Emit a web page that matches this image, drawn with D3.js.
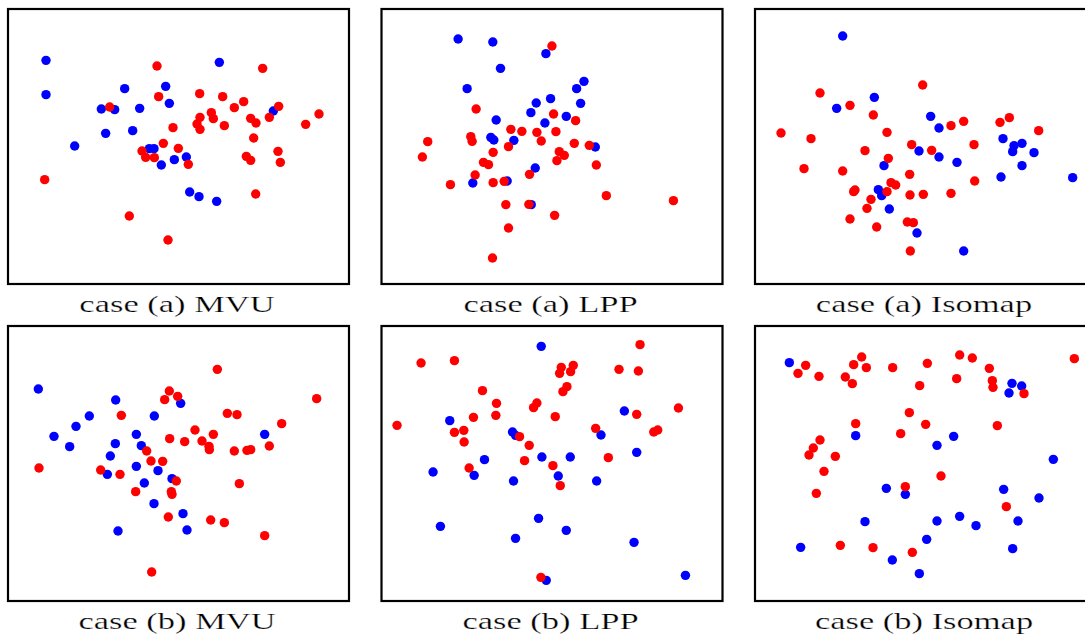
<!DOCTYPE html>
<html>
<head>
<meta charset="utf-8">
<script src="https://cdn.jsdelivr.net/npm/d3@7"></script>
<style>
  body { margin: 0; background: #fff; }
  svg { display: block; }
</style>
</head>
<body>
<div id="chart"></div>
<script>
/* embedding coordinates, [x, y] with y growing downward */
const titles = ["case (a) MVU", "case (a) LPP", "case (a) Isomap",
                "case (b) MVU", "case (b) LPP", "case (b) Isomap"];

const mvuA_blue = [[138,181],[138,284],[658,187],[374,266],[497,259],[508,310],[304,327],[344,329],[419,325],[317,400],[398,392],[224,438],[448,446],[462,446],[484,495],[523,479],[559,471],[569,576],[597,590],[650,604],[820,333]];
const mvuA_red = [[471,198],[788,205],[329,321],[476,290],[599,281],[668,290],[703,323],[731,305],[836,319],[808,352],[957,342],[917,373],[634,338],[640,356],[600,352],[591,372],[600,388],[673,377],[752,355],[768,369],[519,383],[761,414],[490,430],[535,445],[426,453],[437,472],[463,473],[565,493],[739,469],[752,481],[834,454],[841,487],[767,582],[134,539],[388,648],[504,720]];

const lppA_blue = [[264,117],[368,126],[391,205],[527,161],[291,266],[619,266],[641,244],[498,309],[541,296],[631,310],[482,338],[588,349],[378,360],[524,369],[362,412],[371,420],[431,421],[675,441],[495,504],[308,549],[411,543],[483,614]];
const lppA_red = [[545,138],[318,327],[550,342],[616,362],[422,388],[455,394],[500,397],[557,395],[173,425],[302,410],[306,424],[513,423],[612,430],[657,436],[415,440],[157,471],[369,457],[567,455],[582,466],[560,482],[340,487],[355,494],[678,495],[315,525],[478,523],[241,554],[369,548],[402,544],[708,587],[909,602],[407,614],[476,613],[553,646],[415,684],[367,774]];

const isoA_blue = [[308,108],[403,292],[290,325],[572,349],[597,384],[537,453],[597,471],[651,487],[432,497],[789,416],[822,437],[846,430],[818,455],[882,458],[846,497],[783,531],[998,533],[415,569],[425,587],[448,627],[531,699],[671,753]];
const isoA_red = [[240,279],[330,316],[548,255],[400,345],[123,399],[213,416],[441,397],[633,377],[671,364],[780,367],[808,353],[896,392],[515,434],[575,451],[702,434],[375,452],[445,475],[192,506],[308,513],[509,523],[704,543],[453,548],[467,555],[345,570],[341,575],[441,575],[510,585],[550,583],[633,580],[393,598],[381,625],[330,657],[410,681],[502,666],[520,668],[511,753]];

const mvuB_blue = [[115,214],[347,247],[542,257],[268,295],[228,326],[162,356],[209,387],[463,295],[409,350],[346,378],[424,384],[331,415],[409,446],[474,459],[322,470],[516,483],[433,496],[462,558],[549,588],[561,637],[354,640],[794,350]];
const mvuB_red = [[652,155],[508,220],[533,236],[494,246],[950,243],[364,293],[682,287],[711,291],[845,318],[585,337],[640,350],[509,363],[554,372],[606,370],[627,386],[628,396],[703,400],[741,398],[752,396],[808,385],[440,400],[453,430],[488,431],[117,451],[302,457],[360,470],[529,490],[514,522],[516,530],[407,522],[718,498],[505,598],[632,607],[673,615],[794,654],[455,763]];

const lppB_blue = [[513,86],[239,309],[762,280],[427,343],[436,353],[692,352],[343,426],[515,418],[600,418],[799,404],[189,463],[312,473],[564,475],[430,490],[679,490],[505,602],[588,638],[211,626],[436,662],[791,674],[528,788],[945,773]];
const lppB_red = [[809,81],[153,136],[253,129],[573,149],[609,143],[568,167],[601,162],[746,155],[804,160],[337,219],[590,207],[578,222],[379,257],[500,256],[490,270],[924,271],[310,299],[377,293],[555,297],[799,290],[81,323],[253,344],[281,338],[282,373],[448,357],[477,383],[676,332],[850,343],[862,337],[463,429],[548,444],[714,420],[297,451],[570,504],[512,779]];

const isoB_blue = [[148,135],[816,197],[845,205],[807,226],[347,354],[591,383],[641,356],[940,425],[439,512],[496,530],[791,515],[897,541],[375,612],[591,610],[659,596],[708,624],[834,610],[560,665],[182,689],[818,693],[457,727],[538,768]];
const isoB_red = [[197,143],[174,167],[237,176],[365,118],[341,141],[379,150],[316,178],[337,198],[458,150],[562,137],[539,204],[659,112],[697,121],[748,152],[650,183],[757,189],[759,209],[852,228],[1003,123],[508,285],[557,320],[482,348],[347,318],[772,324],[240,367],[220,391],[207,412],[286,416],[252,461],[603,475],[229,527],[496,507],[799,567],[301,683],[399,690],[517,704]];

const blueSets = [mvuA_blue, lppA_blue, isoA_blue, mvuB_blue, lppB_blue, isoB_blue];
const redSets = [mvuA_red, lppA_red, isoA_red, mvuB_red, lppB_red, isoB_red];

/* layout */
const W = 1085, H = 639;
const colLeft = [8, 381.5, 755];
const rowTop = [9, 326];
const panelW = 341, panelH = 275;
const colXDomain = [[24, 1047], [34.5, 1056], [45, 1068]];
const rowYDomain = [[27, 852], [25, 850]];
const R = 4.7;

const svg = d3.select("#chart").append("svg")
  .attr("width", W)
  .attr("height", H);

svg.append("rect").attr("width", W).attr("height", H).attr("fill", "#fff");

titles.forEach((title, i) => {
  const col = i % 3, row = Math.floor(i / 3);
  const x0 = colLeft[col], y0 = rowTop[row];

  const x = d3.scaleLinear().domain(colXDomain[col]).range([x0, x0 + panelW]);
  const y = d3.scaleLinear().domain(rowYDomain[row]).range([y0, y0 + panelH]);

  const g = svg.append("g");

  g.append("rect")
    .attr("x", x0).attr("y", y0)
    .attr("width", panelW).attr("height", panelH)
    .attr("fill", "none")
    .attr("stroke", "#000")
    .attr("stroke-width", 2.2);

  g.selectAll("circle.b")
    .data(blueSets[i])
    .enter().append("circle")
    .attr("class", "b")
    .attr("cx", d => x(d[0]))
    .attr("cy", d => y(d[1]))
    .attr("r", R)
    .attr("fill", "#0000ff");

  g.selectAll("circle.r")
    .data(redSets[i])
    .enter().append("circle")
    .attr("class", "r")
    .attr("cx", d => x(d[0]))
    .attr("cy", d => y(d[1]))
    .attr("r", R)
    .attr("fill", "#ff0000");

  // caption: wide serif, thinned a little with a white outline
  const cx = x0 + panelW / 2 - 1.5;
  const by = y0 + panelH + 28;
  g.append("text")
    .attr("transform", `translate(${cx},${by}) scale(1.5,1)`)
    .attr("text-anchor", "middle")
    .style("font-family", "'Liberation Serif', 'DejaVu Serif', serif")
    .style("font-size", "23px")
    .attr("fill", "#000")
    .attr("stroke", "#fff")
    .attr("stroke-width", 0.25)
    .text(title);
});
</script>
</body>
</html>
